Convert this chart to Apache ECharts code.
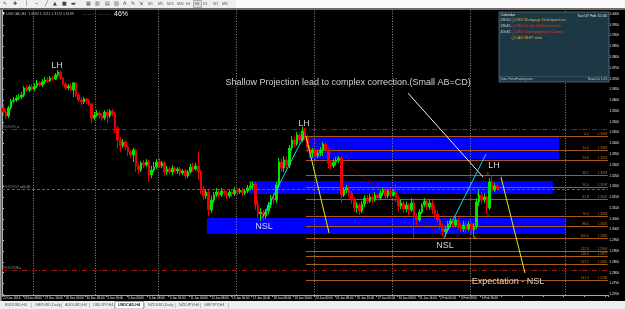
<!DOCTYPE html>
<html><head><meta charset="utf-8">
<script src="https://cdn.jsdelivr.net/npm/echarts@6/dist/echarts.min.js"></script>
<style>html,body{margin:0;padding:0;background:#000;}#c{width:625px;height:309px;}</style>
</head><body><div id="c"></div>
<script>
// ---------- DATA ----------
const days = ['22 Dec','23 Dec','27 Dec','28 Dec','29 Dec','30 Dec','3 Jan','4 Jan','5 Jan','6 Jan',
  '9 Jan','10 Jan','11 Jan','12 Jan','13 Jan','16 Jan','17 Jan','18 Jan','19 Jan','20 Jan',
  '23 Jan','24 Jan','25 Jan','26 Jan','27 Jan','30 Jan','31 Jan','1 Feb','2 Feb','3 Feb','6 Feb','7 Feb'];
const hours = ['00:00','04:00','08:00','12:00','16:00','20:00'];
const lastDayBars = 5;
const totalSlots = 233;

// [open, close, low, high]
const candles = [
[1.3564,1.3545,1.3527,1.3582],[1.3545,1.3527,1.3513,1.3555],[1.3527,1.3564,1.3517,1.3573],[1.3564,1.3596,1.3555,1.3606],
[1.3596,1.3601,1.3587,1.3615],[1.3601,1.3610,1.3592,1.3624],[1.3610,1.3615,1.3601,1.3629],[1.3615,1.3624,1.3606,1.3638],
[1.3624,1.3657,1.3615,1.3666],[1.3657,1.3647,1.3638,1.3671],[1.3647,1.3661,1.3638,1.3671],[1.3661,1.3652,1.3643,1.3675],
[1.3652,1.3666,1.3643,1.3680],[1.3666,1.3680,1.3657,1.3694],[1.3680,1.3671,1.3661,1.3689],[1.3671,1.3685,1.3661,1.3698],
[1.3685,1.3694,1.3675,1.3708],[1.3694,1.3689,1.3680,1.3708],[1.3689,1.3703,1.3685,1.3712],[1.3703,1.3698,1.3689,1.3712],
[1.3698,1.3717,1.3694,1.3726],[1.3717,1.3731,1.3708,1.3740],[1.3731,1.3703,1.3694,1.3736],[1.3703,1.3675,1.3666,1.3708],
[1.3675,1.3657,1.3647,1.3685],[1.3657,1.3666,1.3647,1.3675],[1.3666,1.3647,1.3643,1.3680],[1.3647,1.3680,1.3615,1.3685],
[1.3680,1.3624,1.3615,1.3685],[1.3624,1.3601,1.3592,1.3633],[1.3601,1.3592,1.3573,1.3610],[1.3592,1.3606,1.3582,1.3615],
[1.3606,1.3596,1.3582,1.3610],[1.3596,1.3582,1.3573,1.3606],[1.3582,1.3517,1.3494,1.3587],[1.3517,1.3531,1.3508,1.3545],
[1.3531,1.3541,1.3522,1.3555],[1.3541,1.3527,1.3513,1.3550],[1.3527,1.3517,1.3504,1.3541],[1.3517,1.3545,1.3508,1.3555],
[1.3545,1.3527,1.3494,1.3559],[1.3527,1.3550,1.3517,1.3559],[1.3550,1.3536,1.3527,1.3559],[1.3536,1.3471,1.3448,1.3545],
[1.3471,1.3415,1.3378,1.3480],[1.3415,1.3388,1.3360,1.3429],[1.3388,1.3406,1.3378,1.3420],[1.3406,1.3383,1.3369,1.3415],
[1.3383,1.3360,1.3341,1.3392],[1.3360,1.3346,1.3332,1.3369],[1.3346,1.3369,1.3313,1.3378],[1.3369,1.3295,1.3267,1.3374],
[1.3295,1.3276,1.3258,1.3309],[1.3276,1.3309,1.3267,1.3318],[1.3309,1.3299,1.3285,1.3323],[1.3299,1.3313,1.3290,1.3327],
[1.3313,1.3253,1.3221,1.3323],[1.3253,1.3276,1.3239,1.3295],[1.3276,1.3290,1.3267,1.3313],[1.3290,1.3313,1.3281,1.3327],
[1.3313,1.3295,1.3285,1.3332],[1.3295,1.3309,1.3285,1.3318],[1.3309,1.3267,1.3248,1.3318],[1.3267,1.3281,1.3253,1.3295],
[1.3281,1.3267,1.3258,1.3290],[1.3267,1.3285,1.3253,1.3299],[1.3285,1.3272,1.3262,1.3295],[1.3272,1.3281,1.3258,1.3290],
[1.3281,1.3262,1.3248,1.3290],[1.3262,1.3272,1.3253,1.3281],[1.3272,1.3248,1.3234,1.3281],[1.3248,1.3267,1.3239,1.3276],
[1.3267,1.3290,1.3258,1.3304],[1.3290,1.3281,1.3267,1.3309],[1.3281,1.3295,1.3272,1.3309],[1.3295,1.3267,1.3230,1.3360],
[1.3267,1.3183,1.3165,1.3276],[1.3183,1.3156,1.3137,1.3202],[1.3156,1.3174,1.3142,1.3188],[1.3174,1.3091,1.3063,1.3183],
[1.3091,1.3137,1.3077,1.3156],[1.3137,1.3160,1.3123,1.3174],[1.3160,1.3174,1.3151,1.3193],[1.3174,1.3160,1.3146,1.3183],
[1.3160,1.3179,1.3151,1.3193],[1.3179,1.3169,1.3156,1.3188],[1.3169,1.3156,1.3142,1.3179],[1.3156,1.3174,1.3146,1.3183],
[1.3174,1.3165,1.3151,1.3188],[1.3165,1.3183,1.3156,1.3197],[1.3183,1.3174,1.3160,1.3193],[1.3174,1.3183,1.3165,1.3193],
[1.3183,1.3169,1.3156,1.3193],[1.3169,1.3179,1.3160,1.3188],[1.3179,1.3193,1.3169,1.3207],[1.3193,1.3202,1.3183,1.3221],
[1.3202,1.3211,1.3188,1.3225],[1.3211,1.3114,1.3091,1.3221],[1.3114,1.3072,1.3053,1.3137],[1.3072,1.3081,1.3040,1.3100],
[1.3081,1.3063,1.3044,1.3091],[1.3063,1.3086,1.3049,1.3095],[1.3086,1.3114,1.3072,1.3128],[1.3114,1.3146,1.3100,1.3160],
[1.3146,1.3137,1.3118,1.3165],[1.3137,1.3207,1.3123,1.3221],[1.3207,1.3313,1.3193,1.3332],[1.3313,1.3285,1.3267,1.3332],
[1.3285,1.3323,1.3267,1.3341],[1.3323,1.3299,1.3285,1.3337],[1.3299,1.3378,1.3285,1.3392],[1.3378,1.3415,1.3364,1.3434],
[1.3415,1.3397,1.3383,1.3429],[1.3397,1.3439,1.3388,1.3453],[1.3439,1.3415,1.3401,1.3448],[1.3415,1.3457,1.3406,1.3476],
[1.3457,1.3425,1.3415,1.3471],[1.3425,1.3378,1.3360,1.3439],[1.3378,1.3355,1.3332,1.3392],[1.3355,1.3369,1.3332,1.3378],
[1.3369,1.3341,1.3323,1.3374],[1.3341,1.3355,1.3332,1.3369],[1.3355,1.3369,1.3341,1.3383],[1.3369,1.3397,1.3341,1.3406],
[1.3397,1.3369,1.3355,1.3401],[1.3369,1.3309,1.3285,1.3378],[1.3309,1.3295,1.3276,1.3323],[1.3295,1.3313,1.3285,1.3327],
[1.3313,1.3323,1.3299,1.3337],[1.3323,1.3332,1.3309,1.3341],[1.3332,1.3160,1.3123,1.3341],[1.3160,1.3183,1.3151,1.3197],
[1.3183,1.3193,1.3169,1.3207],[1.3193,1.3169,1.3151,1.3202],[1.3169,1.3137,1.3118,1.3179],[1.3137,1.3100,1.3081,1.3151],
[1.3100,1.3114,1.3077,1.3128],[1.3114,1.3086,1.3067,1.3123],[1.3086,1.3118,1.3077,1.3132],[1.3118,1.3146,1.3105,1.3160],
[1.3146,1.3132,1.3118,1.3160],[1.3132,1.3151,1.3123,1.3165],[1.3151,1.3137,1.3123,1.3165],[1.3137,1.3160,1.3128,1.3174],
[1.3160,1.3146,1.3132,1.3169],[1.3146,1.3169,1.3137,1.3183],[1.3169,1.3183,1.3156,1.3197],[1.3183,1.3156,1.3142,1.3193],
[1.3156,1.3179,1.3146,1.3188],[1.3179,1.3160,1.3146,1.3193],[1.3160,1.3174,1.3151,1.3183],[1.3174,1.3146,1.3128,1.3211],
[1.3146,1.3109,1.3081,1.3160],[1.3109,1.3123,1.3095,1.3142],[1.3123,1.3095,1.3077,1.3132],[1.3095,1.3114,1.3081,1.3128],
[1.3114,1.3091,1.3067,1.3123],[1.3091,1.3123,1.3081,1.3146],[1.3123,1.3058,1.2961,1.3137],[1.3058,1.3044,1.3021,1.3077],
[1.3044,1.3081,1.3035,1.3095],[1.3081,1.3114,1.3072,1.3123],[1.3114,1.3132,1.3105,1.3146],[1.3132,1.3105,1.3091,1.3142],
[1.3105,1.3123,1.3091,1.3142],[1.3123,1.3091,1.3072,1.3137],[1.3091,1.3072,1.3053,1.3109],[1.3072,1.3044,1.3030,1.3086],
[1.3044,1.3016,1.3002,1.3053],[1.3016,1.2989,1.2970,1.3026],[1.2989,1.3002,1.2965,1.3016],[1.3002,1.3026,1.2989,1.3040],
[1.3026,1.3040,1.3012,1.3053],[1.3040,1.3021,1.3007,1.3049],[1.3021,1.3044,1.3012,1.3058],[1.3044,1.3016,1.2998,1.3053],
[1.3016,1.3002,1.2989,1.3030],[1.3002,1.3021,1.2989,1.3040],[1.3021,1.3002,1.2984,1.3035],[1.3002,1.3026,1.2993,1.3040],
[1.3026,1.2998,1.2975,1.3035],[1.2998,1.3016,1.2965,1.3030],[1.3016,1.3128,1.3002,1.3146],[1.3128,1.3160,1.3109,1.3183],
[1.3160,1.3137,1.3118,1.3174],[1.3137,1.3151,1.3123,1.3169],[1.3151,1.3100,1.3077,1.3160],[1.3100,1.3221,1.3091,1.3239],
[1.3221,1.3183,1.3174,1.3248],[1.3183,1.3202,1.3174,1.3216],[1.3202,1.3188,1.3179,1.3211]
];

const priceTicks = [1.270,1.275,1.280,1.285,1.290,1.295,1.300,1.305,1.310,1.315,1.320,1.325,1.330,1.335,
  1.340,1.345,1.350,1.355,1.360,1.365,1.370,1.375,1.380,1.385,1.390,1.395,1.400];
const currentPrice = 1.3188;
const levelLines = [1.3466, 1.2811];          // red dash-dot lines
const weekLines = [12, 36, 60, 90, 120, 150, 180, 216.5]; // vertical separators (bar units)

// supply / demand zones (bar units, prices)
const zoneStart = [78.8, 95.0, 118.5];
const zoneEnd   = [216.9, 211.9, 214.2];
const zoneHigh  = [1.3054, 1.3225, 1.3434];
const zoneLow   = [1.2979, 1.3165, 1.3327];

// fibonacci levels
const fibStart = 116.9;
const fibLevels = ['0.0','14.6','23.6','38.2','50.0','61.8','76.4','88.6','100.0','112.8','118.0','127.2','141.4'];
const fibPrices = [1.3434,1.3369,1.3323,1.3253,1.3197,1.3142,1.3063,1.3016,1.2961,1.2900,1.2877,1.2840,1.2766];

// trend lines [[x0,p0],[x1,p1]]
const cyanUp1   = [[100.0,1.3053],[116.15,1.3434]];
const yellowDn1 = [[116.9,1.3434],[125.8,1.2984]];
const redDotted = [[117.7,1.3434],[170.0,1.2965]];
const whiteDn   = [[156.15,1.3633],[185.0,1.3244]];
const cyanUp2   = [[170.0,1.2961],[186.15,1.3350]];
const yellowDn2 = [[191.9,1.3244],[201.15,1.2798]];

// annotations
const noteText = ['LH','LH','LH','NSL','NSL','Shallow Projection lead to complex correction.(Small AB=CD)','Expectation - NSL'];
const noteX = [21.15, 116.15, 189.2, 100.8, 170.4, 133.1, 194.6];
const noteY = [1.3759, 1.3494, 1.3295, 1.3012, 1.2928, 1.3680, 1.2761];
const pointText = ['A','B','C','D'];
const pointX = [181.9, 183.1, 186.9, 186.9];
const pointY = [1.2961, 1.3160, 1.3067, 1.3258];

// calendar
const calTimes = ['23h15','23h45','45h45',''];
const calEvents = ['USD Mortgage Delinquencies','USD Crude Oil Inventories','USD Unemployment Claims','CAD NHPI m/m'];
const calImpact = ['low','high','high','low'];
const tabs = ['EURUSD,H4','GBPUSD,Daily','AUDUSD,H4','USDJPY,H4','USDCAD,H4','NZDUSD,Daily','NZDJPY,H4','GBPJPY,H4'];
const timeframes = ['M1','M5','M15','M30','H1','H4','D1','W1','MN'];

// ---------- BUILD ----------
const categories = [];
days.forEach((d, di) => {
  const n = di === days.length - 1 ? lastDayBars : hours.length;
  for (let h = 0; h < n; h++) categories.push(di === 0 && h === 0 ? '22 Dec 2016' : d + ' ' + hours[h]);
});
while (categories.length < totalSlots) categories.push('');

const F = 'Liberation Sans, Arial, sans-serif';
const chart = echarts.init(document.getElementById('c'), null, {renderer: 'canvas'});

function seg(pts, color, type, z) {
  return {type: 'line', xAxisIndex: 1, yAxisIndex: 0, data: pts, showSymbol: false, symbol: 'none',
    lineStyle: {color: color, width: 1, type: type || 'solid'}, z: z || 6, silent: true, animation: false};
}

const graphics = [];
// toolbar
graphics.push({type: 'rect', shape: {x: 0, y: 0, width: 236, height: 8}, style: {fill: '#efefef'}});
graphics.push({type: 'rect', shape: {x: 236, y: 0, width: 389, height: 8}, style: {fill: '#f9f9f9'}});
graphics.push({type: 'rect', shape: {x: 0, y: 8, width: 625, height: 2}, style: {fill: '#6d6d6d'}});
const icons = ['↖','✚','│','─','╱','▲','■','▬','▦','▥','▤','▧','A','✎','⇲'];
const iconX = [3, 13, 25, 35, 45, 53, 62, 71, 86, 95, 105, 114, 123, 131, 139];
icons.forEach((t, i) => graphics.push({type: 'text', x: iconX[i], y: 1.5, style: {text: t, fill: '#444', font: '5px DejaVu Sans'}}));
const tfX = [148, 158, 167, 177, 186, 195, 203, 213, 222];
timeframes.forEach((t, i) => {
  if (t === 'H4') graphics.push({type: 'rect', shape: {x: tfX[i] - 1.5, y: 0.5, width: 8, height: 7}, style: {fill: '#dcdcdc', stroke: '#8a8a8a', lineWidth: 0.6}});
  graphics.push({type: 'text', x: tfX[i], y: 2.5, style: {text: t, fill: '#555', font: '3.5px ' + F}});
});
// left strip
graphics.push({type: 'rect', shape: {x: 0, y: 10, width: 1.6, height: 291}, style: {fill: '#9c9c9c'}});
// info line
graphics.push({type: 'rect', shape: {x: 2.5, y: 12, width: 2, height: 2}, style: {fill: '#cfcfcf'}});
graphics.push({type: 'text', x: 6, y: 11.8, style: {text: 'USDCAD,H4  1.3184 1.3211 1.3174 1.3189', fill: '#b8b8b8', font: '3.5px ' + F}});
graphics.push({type: 'text', x: 83, y: 12, style: {text: '- - - - -    - - - - -', fill: '#8a8a8a', font: '4px ' + F}});
graphics.push({type: 'text', x: 114, y: 10.8, style: {text: '46%', fill: '#f0f0f0', font: '7px ' + F}});
// calendar widget
graphics.push({type: 'rect', shape: {x: 499, y: 12, width: 110, height: 70}, style: {fill: '#1c3844', stroke: '#557482', lineWidth: 0.8}, z: 50});
graphics.push({type: 'text', x: 501, y: 13.5, style: {text: 'Calendar', fill: '#e6e6e6', font: '3.5px ' + F}, z: 51});
graphics.push({type: 'text', x: 607, y: 13.5, style: {text: 'Tue 07 Feb 15:45', fill: '#e6e6e6', font: '3.8px ' + F, align: 'right'}, z: 51});
calEvents.forEach((e, i) => {
  const y = 18.2 + i * 6;
  const col = calImpact[i] === 'high' ? '#e8342c' : '#e0a83a';
  graphics.push({type: 'text', x: 500.5, y: y, style: {text: calTimes[i], fill: '#d8d8d8', font: '3.6px ' + F}, z: 51});
  graphics.push({type: 'text', x: 510.5, y: y, style: {text: 'ⓘ', fill: col, font: '3.8px DejaVu Sans'}, z: 51});
  graphics.push({type: 'text', x: 515, y: y, style: {text: e, fill: col, font: '3.9px ' + F}, z: 51});
});
graphics.push({type: 'rect', shape: {x: 499.5, y: 76.5, width: 109, height: 0.6}, style: {fill: '#4b6876'}, z: 51});
graphics.push({type: 'text', x: 500.5, y: 77.6, style: {text: 'Data: ForexFactory.com', fill: '#c8c8c8', font: '3px ' + F}, z: 51});
graphics.push({type: 'text', x: 607.5, y: 77.6, style: {text: 'NewsCal 1.0%', fill: '#c8c8c8', font: '3px ' + F, align: 'right'}, z: 51});
// tabs
graphics.push({type: 'rect', shape: {x: 0, y: 301, width: 625, height: 8}, style: {fill: '#eeeeee'}});
const tabX = [5, 35, 65, 93, 118, 148, 179, 204];
tabs.forEach((t, i) => {
  if (t === 'USDCAD,H4') graphics.push({type: 'rect', shape: {x: 115, y: 301.5, width: 28.5, height: 7.5}, style: {fill: '#ffffff', stroke: '#7a7a7a', lineWidth: 0.6}});
  graphics.push({type: 'text', x: tabX[i], y: 303.3, style: {text: t, fill: t === 'USDCAD,H4' ? '#111' : '#555', font: (t === 'USDCAD,H4' ? 'bold ' : '') + '3.8px ' + F}});
  graphics.push({type: 'text', x: tabX[i] + (i < tabs.length - 1 ? tabX[i + 1] - tabX[i] - 4 : 24), y: 302.8, style: {text: '|', fill: '#777', font: '4.5px ' + F}});
});

const option = {
  backgroundColor: '#000',
  animation: false,
  grid: {left: 2, right: 17.2, top: 10, bottom: 14, containLabel: false},
  xAxis: [
    {type: 'category', data: categories, boundaryGap: true,
      axisLine: {show: true, lineStyle: {color: '#a8a8a8', width: 1}},
      axisTick: {show: true, interval: 7, length: 2, lineStyle: {color: '#a8a8a8'}},
      axisLabel: {interval: 7, fontSize: 3, color: '#e4e4e4', margin: 1.5, align: 'left', fontFamily: F},
      splitLine: {show: false}},
    {type: 'value', min: 0, max: totalSlots, show: false, gridIndex: 0}
  ],
  yAxis: [{type: 'value', position: 'right', min: 1.26962, max: 1.40186, scale: true,
    splitLine: {show: false},
    axisLine: {show: true, lineStyle: {color: '#b4b4b4', width: 1}},
    axisTick: {show: true, length: 2, customValues: priceTicks, lineStyle: {color: '#b4b4b4'}},
    axisLabel: {customValues: priceTicks, formatter: v => v.toFixed(4), fontSize: 3.2, color: '#e8e8e8', margin: 1.5, fontFamily: F}
  }],
  graphic: {elements: graphics},
  series: [
    {type: 'line', name: 'zones', xAxisIndex: 1, data: [], z: 1, silent: true,
      markArea: {silent: true, itemStyle: {color: '#0000ff', opacity: 1},
        data: zoneStart.map((s, i) => [{coord: [s, zoneHigh[i]]}, {coord: [zoneEnd[i], zoneLow[i]]}])}},
    {type: 'line', name: 'levels', xAxisIndex: 1, data: [], z: 2, silent: true,
      markLine: {silent: true, symbol: ['none', 'none'], precision: 4,
        data: [
          ...weekLines.map(x => ({xAxis: x, lineStyle: {color: '#8e8e8e', type: [1, 1.6], width: 1}, label: {show: false}})),
          {yAxis: levelLines[0], lineStyle: {color: '#9b1414', type: [5, 2, 1, 2], width: 1},
            label: {show: true, position: 'insideStartTop', formatter: '########, a', fontSize: 3, color: '#b0b0b0', distance: 0.5, fontFamily: F}},
          {yAxis: levelLines[1], lineStyle: {color: '#9b1414', type: [5, 2, 1, 2], width: 1},
            label: {show: true, position: 'insideStartTop', formatter: '#######OS a', fontSize: 3, color: '#b0b0b0', distance: 0.5, fontFamily: F}},
          {yAxis: currentPrice, lineStyle: {color: '#3f7d3f', type: [3, 2], width: 1},
            label: {show: true, position: 'insideStartTop', formatter: '########## ad 0.00', fontSize: 3, color: '#b0b0b0', distance: 0.5, fontFamily: F}}
        ]}},
    {type: 'line', name: 'fib', xAxisIndex: 1, data: [], z: 3, silent: true,
      markLine: {silent: true, symbol: ['none', 'none'],
        lineStyle: {color: '#a8591c', type: 'solid', width: 1},
        label: {show: true, position: 'insideEndTop', fontSize: 3.2, color: '#c27a32', distance: 0.5, fontFamily: F},
        data: fibPrices.map((p, i) => [{coord: [fibStart, p], name: fibLevels[i] + '          ' + p.toFixed(4)}, {coord: [totalSlots, p]}])}},
    {type: 'candlestick', name: 'USDCAD,H4', xAxisIndex: 0, yAxisIndex: 0, data: candles, barWidth: 2, z: 5,
      itemStyle: {color: '#00e400', color0: '#ee0000', borderColor: '#00e400', borderColor0: '#ee0000', borderWidth: 1}},
    {type: 'line', name: 'price', xAxisIndex: 1, data: [], z: 9, silent: true,
      markLine: {silent: true, symbol: ['none', 'none'], lineStyle: {opacity: 0},
        data: [{yAxis: currentPrice, label: {show: true, position: 'end', formatter: currentPrice.toFixed(4), fontSize: 3.2,
          color: '#000', backgroundColor: '#ffffff', padding: [0.6, 1.2], distance: 1.5, fontFamily: F}}]}},
    seg(redDotted, '#a01010', [1, 1.5], 4),
    seg(cyanUp1, '#19d6f0'), seg(yellowDn1, '#e8e81a'), seg(whiteDn, '#f2f2f2'),
    seg(cyanUp2, '#19d6f0'), seg(yellowDn2, '#e8e81a'),
    {type: 'scatter', name: 'notes', xAxisIndex: 1, symbolSize: 1, itemStyle: {color: 'rgba(0,0,0,0)'}, z: 10, silent: true,
      label: {show: true, position: 'inside', formatter: p => p.data.t, color: '#ffffff', fontSize: 9, fontFamily: F},
      data: noteText.map((t, i) => ({value: [noteX[i], noteY[i]], t: t}))},
    {type: 'scatter', name: 'points', xAxisIndex: 1, symbolSize: 1, itemStyle: {color: 'rgba(0,0,0,0)'}, z: 10, silent: true,
      label: {show: true, position: 'inside', formatter: p => p.data.t, color: '#b4b41e', fontSize: 4, fontFamily: F},
      data: pointText.map((t, i) => ({value: [pointX[i], pointY[i]], t: t}))}
  ]
};
chart.setOption(option);
</script></body></html>
